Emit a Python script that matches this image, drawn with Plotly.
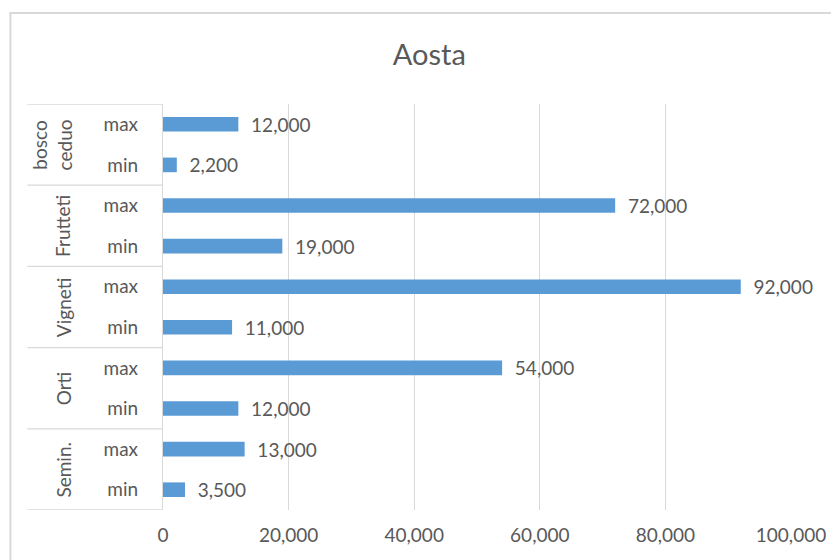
import plotly.graph_objects as go

title = "Aosta"
groups = ["bosco<br>ceduo", "Frutteti", "Vigneti", "Orti", "Semin."]
sub_labels = ["max", "min"]
max_values = [12000, 72000, 92000, 54000, 13000]
min_values = [2200, 19000, 11000, 12000, 3500]
x_ticks = [0, 20000, 40000, 60000, 80000, 100000]

BAR = "#5B9BD5"
TXT = "#595959"
GRID = "#D9D9D9"
FONT = "Lato"

# flatten rows top-to-bottom
rows_y, rows_x, rows_lab = [], [], []
i = 0
for g, mx, mn in zip(groups, max_values, min_values):
    for lab, v in zip(sub_labels, [mx, mn]):
        rows_y.append(i)
        rows_x.append(v)
        rows_lab.append(lab)
        i += 1
n = len(rows_y)

fig = go.Figure()
fig.add_trace(go.Bar(
    x=rows_x, y=rows_y, orientation="h",
    marker=dict(color=BAR, line=dict(width=0)),
    width=0.36,
    text=["  " + f"{v:,}" for v in rows_x],
    textposition="outside",
    constraintext="none",
    textfont=dict(family=FONT, size=19, color=TXT),
    cliponaxis=False,
    hoverinfo="skip",
))

shapes = []
# group separators in category area
per = len(sub_labels)
for k in range(len(groups) + 1):
    yb = k * per - 0.5
    shapes.append(dict(type="line", xref="paper", yref="y",
                       x0=-0.216, x1=0, y0=yb, y1=yb,
                       line=dict(color=GRID, width=1.3)))
# outer chart border
shapes.append(dict(type="rect", xref="paper", yref="paper",
                   x0=-0.243, x1=1.2, y0=-0.4, y1=1.224,
                   line=dict(color=GRID, width=2), layer="below"))

annotations = []
for k, g in enumerate(groups):
    yc = k * per + (per - 1) / 2
    xc = -0.177 if "<br>" in g else -0.159
    annotations.append(dict(text=g, xref="paper", yref="y", x=xc, y=yc,
                            textangle=-90, showarrow=False,
                            xanchor="center", yanchor="middle",
                            font=dict(family=FONT, size=19, color=TXT)))

fig.update_layout(
    width=831, height=552,
    margin=dict(l=155, r=48, t=96, b=50, autoexpand=False),
    paper_bgcolor="white", plot_bgcolor="white",
    title=dict(text=title, x=0.507, xanchor="center", y=0.915, yanchor="middle",
               font=dict(family=FONT, size=29, color=TXT)),
    showlegend=False,
    shapes=shapes,
    annotations=annotations,
    xaxis=dict(range=[0, 100000], tickvals=x_ticks,
               ticktext=[f"{v:,}" for v in x_ticks],
               showgrid=True, gridcolor=GRID, gridwidth=1,
               zeroline=False, showline=False, ticks="",
               ticklabelstandoff=12,
               tickfont=dict(family=FONT, size=19, color=TXT)),
    yaxis=dict(range=[n - 0.5, -0.5], tickvals=rows_y, ticktext=rows_lab,
               showgrid=False, zeroline=False, showline=True,
               linecolor=GRID, linewidth=1.3, ticks="",
               ticklabelstandoff=20,
               tickfont=dict(family=FONT, size=19, color=TXT)),
)

fig.write_html("out.html")
